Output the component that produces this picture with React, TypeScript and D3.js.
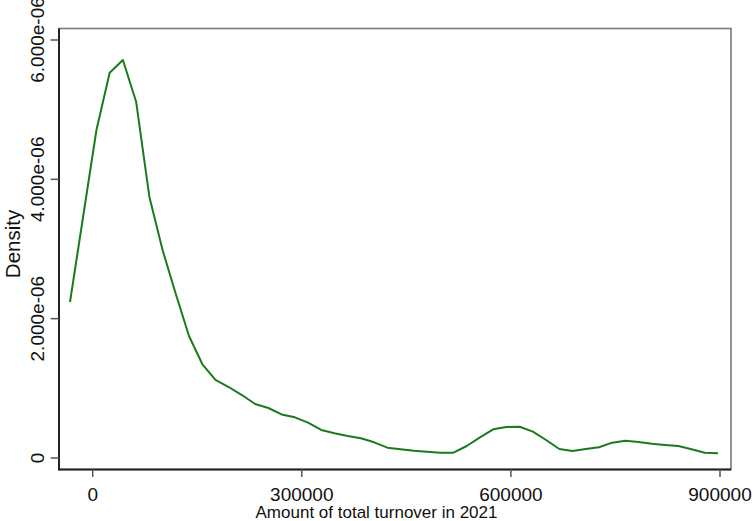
import React, { useEffect, useRef } from 'react';
import * as d3 from 'd3';

// kernel density estimate, 50 evaluation points
const turnover = [
  -32570, -13597, 5376, 24349, 43322, 62295, 81268, 100241, 119214, 138187,
  157160, 176133, 195106, 214079, 233052, 252025, 270998, 289971, 308944, 327917,
  346890, 365863, 384836, 403809, 422782, 441755, 460728, 479701, 498674, 517647,
  536620, 555593, 574566, 593539, 612512, 631485, 650458, 669431, 688404, 707377,
  726350, 745323, 764296, 783269, 802242, 821215, 840188, 859161, 878134, 897107,
];
const density = [
  2.239e-6, 3.474e-6, 4.708e-6, 5.531e-6, 5.713e-6, 5.114e-6, 3.751e-6, 2.986e-6, 2.354e-6, 1.751e-6,
  1.349e-6, 1.12e-6, 1.019e-6, 0.904e-6, 0.775e-6, 0.718e-6, 0.625e-6, 0.584e-6, 0.507e-6, 0.402e-6,
  0.355e-6, 0.316e-6, 0.283e-6, 0.225e-6, 0.148e-6, 0.125e-6, 0.105e-6, 0.09e-6, 0.076e-6, 0.076e-6,
  0.172e-6, 0.297e-6, 0.412e-6, 0.445e-6, 0.449e-6, 0.378e-6, 0.258e-6, 0.129e-6, 0.1e-6, 0.129e-6,
  0.154e-6, 0.22e-6, 0.248e-6, 0.23e-6, 0.205e-6, 0.187e-6, 0.172e-6, 0.125e-6, 0.076e-6, 0.067e-6,
];
const xTicks = [0, 300000, 600000, 900000];
const yTicks = [0, 2e-6, 4e-6, 6e-6];
const yTickLabels = ['0', '2.000e-06', '4.000e-06', '6.000e-06'];

const App = () => {
  const ref = useRef<SVGSVGElement>(null);

  useEffect(() => {
    const width = 753;
    const height = 521;
    const margin = { left: 59, right: 22, top: 28.5, bottom: 51.5 };
    const svg = d3.select(ref.current);
    svg.selectAll('*').remove();

    const x = d3.scaleLinear()
      .domain([0, 900000])
      .range([92.7, 720]);
    const y = d3.scaleLinear()
      .domain([0, 6e-6])
      .range([458, 40]);

    const left = margin.left;
    const right = width - margin.right;
    const top = margin.top;
    const bottom = height - margin.bottom;

    // plot region outline
    svg.append('rect')
      .attr('x', left)
      .attr('y', top)
      .attr('width', right - left)
      .attr('height', bottom - top)
      .attr('fill', 'white')
      .attr('stroke', '#7a7a7a')
      .attr('stroke-width', 1.6);

    // axis lines
    svg.append('line')
      .attr('x1', left).attr('x2', left)
      .attr('y1', top).attr('y2', bottom + 0.8)
      .attr('stroke', '#222').attr('stroke-width', 2);
    svg.append('line')
      .attr('x1', left - 0.8).attr('x2', right)
      .attr('y1', bottom).attr('y2', bottom)
      .attr('stroke', '#222').attr('stroke-width', 2);

    // x ticks
    const xg = svg.append('g');
    xg.selectAll('line')
      .data(xTicks)
      .enter()
      .append('line')
      .attr('x1', d => x(d)).attr('x2', d => x(d))
      .attr('y1', bottom).attr('y2', bottom + 7.5)
      .attr('stroke', '#555').attr('stroke-width', 1.5);
    xg.selectAll('text')
      .data(xTicks)
      .enter()
      .append('text')
      .attr('x', d => x(d))
      .attr('y', 500.5)
      .attr('text-anchor', 'middle')
      .attr('font-family', 'Liberation Sans, Arial, sans-serif')
      .attr('font-size', '19px')
      .attr('fill', '#111')
      .text(d => String(d));

    // y ticks
    const yg = svg.append('g');
    yg.selectAll('line')
      .data(yTicks)
      .enter()
      .append('line')
      .attr('x1', left - 8.3).attr('x2', left)
      .attr('y1', d => y(d)).attr('y2', d => y(d))
      .attr('stroke', '#555').attr('stroke-width', 1.5);
    yg.selectAll('text')
      .data(yTicks)
      .enter()
      .append('text')
      .attr('transform', d => `translate(44, ${y(d)}) rotate(-90)`)
      .attr('text-anchor', 'middle')
      .attr('font-family', 'Liberation Sans, Arial, sans-serif')
      .attr('font-size', '19px')
      .attr('fill', '#111')
      .text((d, i) => yTickLabels[i]);

    // titles
    svg.append('text')
      .attr('x', 376.5)
      .attr('y', 518)
      .attr('text-anchor', 'middle')
      .attr('font-family', 'Liberation Sans, Arial, sans-serif')
      .attr('font-size', '17px')
      .attr('fill', '#111')
      .text('Amount of total turnover in 2021');
    svg.append('text')
      .attr('transform', 'translate(20, 244) rotate(-90)')
      .attr('text-anchor', 'middle')
      .attr('font-family', 'Liberation Sans, Arial, sans-serif')
      .attr('font-size', '20.5px')
      .attr('fill', '#111')
      .text('Density');

    // density curve
    const line = d3.line<number>()
      .x((d, i) => x(turnover[i]))
      .y(d => y(d));
    svg.append('path')
      .datum(density)
      .attr('d', line)
      .attr('fill', 'none')
      .attr('stroke', '#1c7a1c')
      .attr('stroke-width', 2)
      .attr('stroke-linejoin', 'round');
  }, []);

  return (
    <svg
      ref={ref}
      width={753}
      height={521}
      style={{ position: 'absolute', left: 0, top: 0, background: 'white' }}
    />
  );
};

export default App;
